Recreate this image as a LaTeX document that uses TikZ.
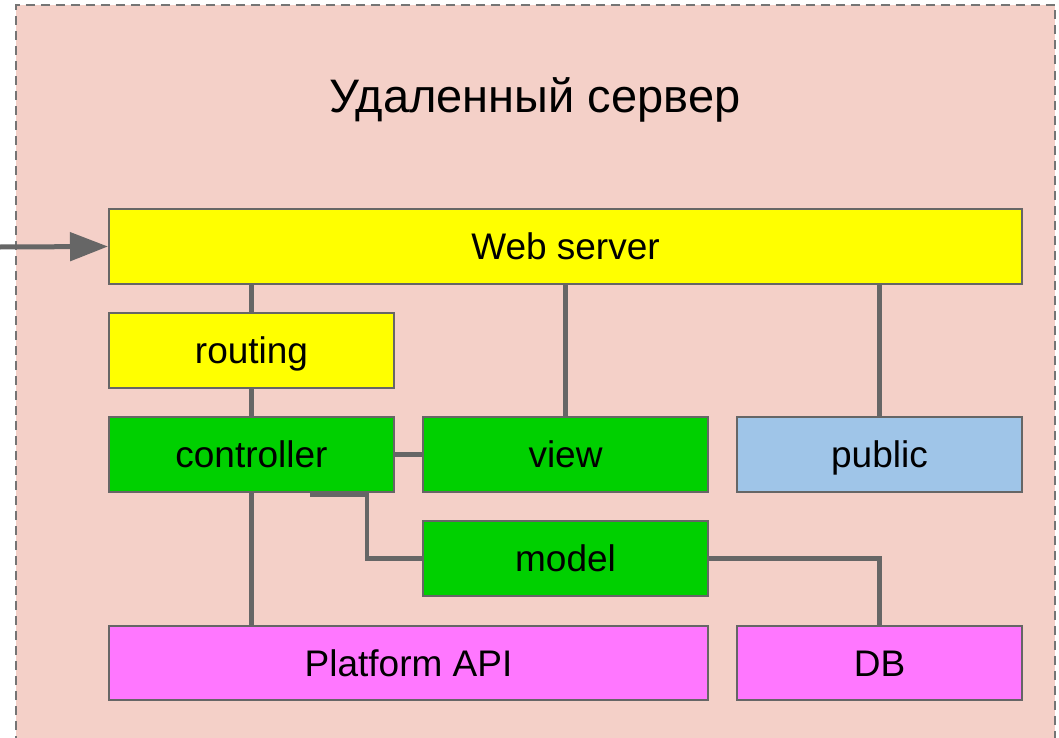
\documentclass[tikz,border=0pt]{standalone}
\usepackage{fontspec}
\setmainfont{Liberation Sans}
\usetikzlibrary{arrows.meta}
\definecolor{srvbg}{HTML}{F4D0C8}
\definecolor{wire}{HTML}{666666}
\definecolor{webyel}{HTML}{FFFF00}
\definecolor{mvcgreen}{HTML}{00D000}
\definecolor{pubblue}{HTML}{9FC5E8}
\definecolor{extpink}{HTML}{FF77FF}
\begin{document}
\begin{tikzpicture}[x=.5pt,y=-.5pt,
  box/.style={draw=wire,line width=1pt,inner sep=0pt,minimum width=142.5pt,minimum height=37.5pt,
    text height=13pt,text depth=0pt,font=\fontsize{18.5}{22}\selectfont},
  link/.style={draw=wire,line width=2.25pt}]
\useasboundingbox (0,0) rectangle (1059,738);
% server frame
\fill[srvbg] (15.5,5) rectangle (1055,760);
\draw[wire!90,line width=1pt,dash pattern=on 4.5pt off 3pt] (15.5,760) -- (15.5,5) -- (1055,5) -- (1055,760);
\node[font=\fontsize{23.5}{28}\selectfont] (title) at (535,100) {Удаленный сервер};
% blocks
\node[box,fill=webyel,minimum width=456.5pt] (ws) at (565.5,246.5) {Web server};
\node[box,fill=webyel] (routing) at (251.5,350.5) {routing};
\node[box,fill=mvcgreen] (ctrl) at (251.5,454.5) {controller};
\node[box,fill=mvcgreen] (view) at (565.5,454.5) {view};
\node[box,fill=pubblue] (public) at (879.5,454.5) {public};
\node[box,fill=mvcgreen] (model) at (565.5,558.5) {model};
\node[box,fill=extpink,minimum width=299.5pt,minimum height=37pt] (api) at (408.5,663) {Platform API};
\node[box,fill=extpink,minimum height=37pt] (db) at (879.5,663) {DB};
% links
\foreach \a/\b in {routing/ws,ctrl/routing,view/ws,public/ws}{
  \draw[link] (\a.north) -- (\a.north |- \b.south);
}
\draw[link] (ctrl.south) -- (ctrl.south |- api.north);
\draw[link] (ctrl.east) -- (view.west);
\draw[link] ([xshift=29.25pt,yshift=-1pt]ctrl.south) -- ++(57,0) |- (model.west);
\draw[link] (model.east) -| (db.north);
% incoming requests
\coordinate (in) at (0,247);
\draw[wire,line width=2.5pt,-{Triangle[length=19pt,width=14pt]}] (in) -- (ws.west);
\end{tikzpicture}
\end{document}
